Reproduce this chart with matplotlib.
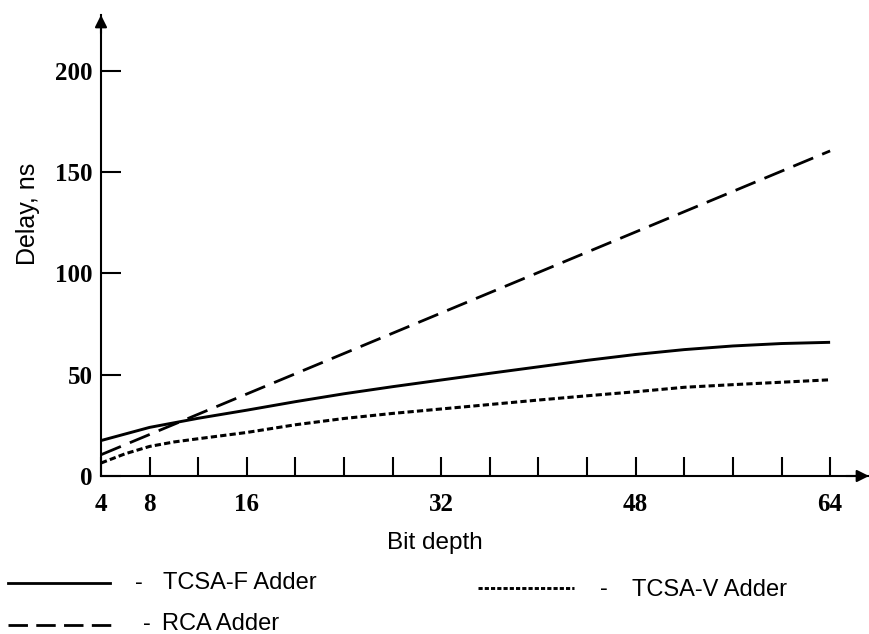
import matplotlib
matplotlib.use("Agg")
import matplotlib.pyplot as plt
from matplotlib.lines import Line2D

# ---- data ----
bits_f = [4, 8, 12, 16, 20, 24, 28, 32, 36, 40, 44, 48, 52, 56, 60, 64]
tcsa_f = [17.5, 24, 28.5, 32.5, 36.7, 40.6, 44.1, 47.4, 50.7, 53.9, 57.1, 60.0, 62.4, 64.2, 65.4, 66]

bits_v = [4, 6, 8, 10, 12, 16, 20, 24, 28, 32, 36, 40, 44, 48, 52, 56, 60, 64]
tcsa_v = [6.4, 11, 14.6, 16.8, 18.4, 21.5, 25.3, 28.4, 30.9, 33.1, 35.3, 37.5, 39.6, 41.6, 43.8, 45.1, 46.3, 47.5]

bits_r = [4, 8, 16, 32, 48, 64]
rca = [10.5, 20.5, 40.5, 80.5, 120.5, 160.5]

x_ticks = list(range(4, 65, 4))
x_labeled = {4: "4", 8: "8", 16: "16", 32: "32", 48: "48", 64: "64"}
y_ticks = [0, 50, 100, 150, 200]
y_labels = ["0", "50", "100", "150", "200"]

series_names = ["TCSA-F Adder", "TCSA-V Adder", "RCA Adder"]

plt.rcParams["lines.scale_dashes"] = False

W, H = 869, 634
fig = plt.figure(figsize=(W / 100, H / 100), dpi=100)

ax = fig.add_axes([101 / W, 1 - 476 / H, (869 - 101) / W, (476 - 15) / H])
ax.set_xlim(4, 67.2)
ax.set_ylim(0, 227.6)

ax.plot(bits_f, tcsa_f, color="black", lw=2.1, solid_capstyle="butt", solid_joinstyle="round")
ax.plot(bits_v, tcsa_v, color="black", lw=2.2, dashes=(4.5, 2.3))
ax.plot(bits_r, rca, color="black", lw=2.0, dashes=(15.5, 7))

for s in ["top", "right"]:
    ax.spines[s].set_visible(False)
for s in ["left", "bottom"]:
    ax.spines[s].set_linewidth(1.5)

serif = {"family": "Liberation Serif", "weight": "bold", "size": 18}
ax.set_xticks(x_ticks)
ax.set_xticklabels([x_labeled.get(t, "") for t in x_ticks], fontdict=serif)
ax.set_yticks(y_ticks)
ax.set_yticklabels(y_labels, fontdict=serif)
ax.tick_params(axis="x", direction="in", length=13.5, width=1.5, pad=12)
ax.tick_params(axis="y", direction="in", length=14.5, width=1.5, pad=6)

# arrow heads
ax.annotate("", xy=(1, 0), xytext=(0.97, 0), xycoords="axes fraction",
            arrowprops=dict(arrowstyle="-|>", color="black", lw=1.5,
                            mutation_scale=18, shrinkA=0, shrinkB=0))
ax.annotate("", xy=(0, 1), xytext=(0, 0.96), xycoords="axes fraction",
            arrowprops=dict(arrowstyle="-|>", color="black", lw=1.5,
                            mutation_scale=18, shrinkA=0, shrinkB=0))

sans = "Liberation Sans"
fig.text(28 / W, 1 - 214 / H, "Delay, ns", rotation=90, ha="center", va="center",
         family=sans, size=18)
fig.text(435 / W, 1 - 543 / H, "Bit depth", ha="center", va="center",
         family=sans, size=17.5)

# custom legend
def fx(x):
    return x / W

def fy(y):
    return 1 - y / H

fig.add_artist(Line2D([fx(8), fx(110)], [fy(583), fy(583)], color="black", lw=2.0,
                      transform=fig.transFigure))
fig.text(fx(135), fy(583), "-", ha="left", va="center", family=sans, size=17)
fig.text(fx(163), fy(583), series_names[0], ha="left", va="center", family=sans, size=17)

fig.add_artist(Line2D([fx(478), fx(574)], [fy(588), fy(588)], color="black", lw=2.1,
                      dashes=(3, 1.5), transform=fig.transFigure))
fig.text(fx(600), fy(589), "-", ha="left", va="center", family=sans, size=17)
fig.text(fx(632), fy(590), series_names[1], ha="left", va="center", family=sans, size=17)

fig.add_artist(Line2D([fx(8), fx(112)], [fy(625), fy(625)], color="black", lw=2.0,
                      dashes=(14, 6), transform=fig.transFigure))
fig.text(fx(143), fy(624), "-", ha="left", va="center", family=sans, size=17)
fig.text(fx(162), fy(624), series_names[2], ha="left", va="center", family=sans, size=17)

fig.savefig("out.png", dpi=100)
